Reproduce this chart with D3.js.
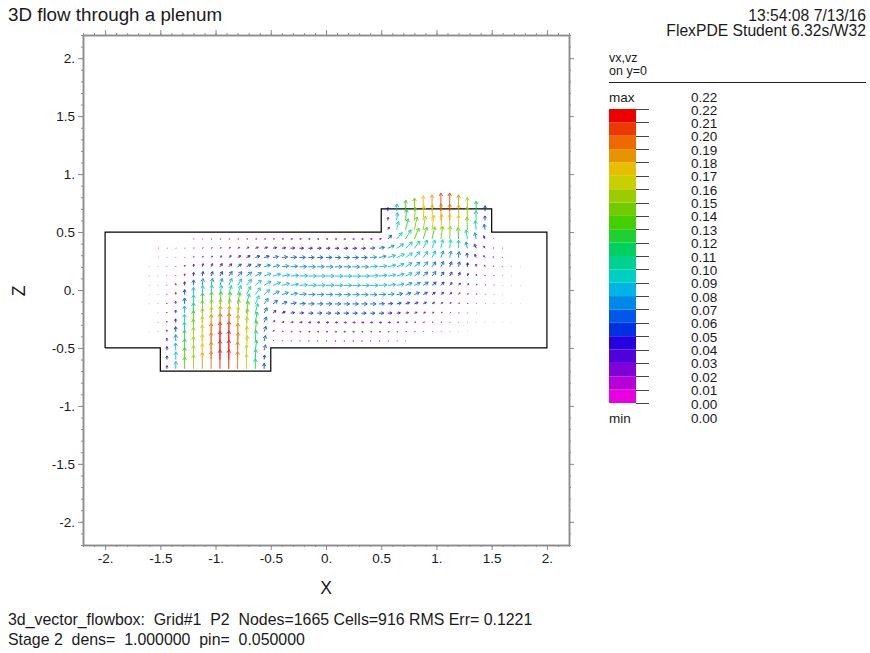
<!DOCTYPE html>
<html>
<head>
<meta charset="utf-8">
<title>3D flow through a plenum</title>
<script src="https://cdnjs.cloudflare.com/ajax/libs/d3/7.8.5/d3.min.js"></script>
<style>
    html, body { margin: 0; padding: 0; background: #fff; }
    svg { display: block; }
    text { font-family: "Liberation Sans", Arial, sans-serif; fill: #1a1a1a; }
    .frame path, .frame line { stroke: #8c8c8c; }
    .frame path { stroke-width: 1.5px; }
    .frame text { font-size: 13.5px; }
</style>
</head>
<body>
<div id="chart"></div>
<script>
// grid of the vector plot
var gridXStart = -1.6, gridXStep = 0.08;
var rowZ = [-0.68, -0.6, -0.52, -0.44, -0.36, -0.28, -0.2, -0.12, -0.04, 0.04, 0.12, 0.2, 0.28, 0.36, 0.44, 0.52, 0.6, 0.68];
// first column index of each row
var rowStart = [2, 2, 2, 2, 0, 1, 1, 0, 0, 0, 0, 0, 1, 1, 5, 27, 27, 27];

// velocities, in units of 0.01
var vxRows = [
    [0,0,0,0,0,0,0,0,0,0,0,0],
    [0,0,0,0,0,0,0,0,0,0,.5,.5],
    [0,-.3,0,0,0,0,0,0,.5,1,1.5,1.5],
    [-.1,-.1,-.1,-.1,0,0,.1,.2,.3,.5,.8,1.5,.8,.9,.9,.9,1,1,1,1.2,1.2,1.2,1.1,1,1,.9,.7,.5],
    [-.1,-.1,-.1,-.2,-.2,-.1,0,.2,.3,.4,.5,.8,1.3,2,1.2,1.5,1.7,1.8,2,2,2,2,2,2,1.9,1.8,1.7,1.5,1.3,1.1,.9,.7,.5,.4,.3,.2,.1],
    [-.1,-.2,-.3,-.2,-.1,.1,.3,.5,.7,.9,1.3,2,2.5,2,2.5,2.8,3,3,3,3,3,3,3,3,3,3,2.8,2.5,2,1.7,1.4,1.1,.9,.6,.4,.3,.2,.1,.1,.1,.1],
    [-.2,-.2,-.2,-.2,0,.2,.5,.8,1.1,1.5,2,2.7,3.2,3.3,3.8,4.2,4.5,5.3,5.3,5.3,5.3,5.3,5.3,5.3,5.3,5.3,4.5,4,3.5,3,2.5,2,1.5,1,.7,.4,.2],
    [-.2,-.2,-.2,-.2,-.1,.1,.3,.7,1.2,1.8,2.5,3.2,4,4.5,5,5.8,6.2,6.5,6.5,6.5,6.5,6.5,6.5,6.5,6.5,6.5,6,5.5,5,4.5,4,3.5,2.7,2,1.5,1,.7,.4,.3,.2,.1,.1,.1],
    [-.2,-.2,-.2,-.1,0,.1,.5,1,1.8,2.7,3.5,4.5,5.5,6,6.8,7.2,7.5,7.5,7.5,7.5,7.5,7.5,7.5,7.5,7.5,7.5,7.4,7,6.5,6,5.5,4.5,3.5,3,2,1.5,1,.6,.3,.3,.2],
    [-.3,-.3,-.2,-.1,0,.2,.8,1.6,2.5,3.5,4.5,5.5,6.5,7.5,8.2,8.5,8.7,8.8,8.8,8.8,8.8,8.8,8.8,8.8,8.8,8.8,8.7,8.5,8,7.2,6.5,5.5,4.5,3.5,2.5,2,1.2,.8,.4,.3,.2,.1,.1],
    [-.4,-.3,-.2,-.1,0,.2,.8,1.7,2.7,3.7,4.7,5.7,6.5,7.5,8.3,8.7,8.8,8.9,8.9,8.9,8.9,8.9,8.9,8.9,8.9,8.9,8.8,8.7,8.2,7.2,6,5,4.2,3.3,2.5,1.5,.8,.3,0,0,0,-.1],
    [-.2,-.2,-.2,0,.1,.3,.8,1.5,2.5,3.2,4,5,6,6.8,7.3,7.6,7.7,7.8,7.8,7.8,7.8,7.8,7.8,7.8,7.8,8,8.5,8.5,8,7,6,5,4,3,2,1,.3,-.3,-.5,-.5,-.5,-.3,-.2],
    [.3,.2,.2,.3,.6,1,1.5,2,2.6,3.3,4,4.8,5.5,6,6.3,6.5,6.5,6.5,6.5,6.5,6.5,6.5,6.5,6.5,7,7.8,8.3,8.5,7.5,6,5,3.8,2.8,1.5,.5,-.5,-1.5,-1.5,-1,-.7],
    [.6,.5,.5,.6,.9,1,1.2,1.4,1.8,2.3,2.8,3.2,3.6,4,4.2,4.5,4.5,4.5,4.5,4.5,4.5,4.5,4.5,4.5,5,6,7,7.5,7.5,6,4.5,3.2,2,1,0,-1.5,-2,-1.5,-.8,-.6],
    [.8,.8,.9,1,1,1.2,1.3,1.5,1.6,1.7,1.8,2,2,2,2,2,2,2,2,2.1,2.2,2.5,4,6,6,5,4,3,2,.5,-.5,-1.5,-1.5,-1.5,-.5],
    [1.5,2,3,3,2.5,2,1,0,0,-.5,-1,-1],
    [.3,.8,1.2,1.2,1,.5,.3,0,0,-.2,-.4,-.2],
    [0,.2,.3,.2,.1,0,0,0,0,-.1,-.1,0]
];
var vzRows = [
    [3.5,8,13,15.5,18,19.5,21,21,19,16,11,6],
    [4,8.5,13,15.5,17.5,19.5,21,21.5,19.5,16,11,5],
    [4,8,12.5,15,17.5,19.5,21,21.5,19.5,16,11,6],
    [3,7,12,15,17.5,19.5,21,21.5,19.5,16,11.5,6,.8,.3,.2,.1,.1,.1,.1,0,0,0,0,0,0,0,0,0],
    [.1,.4,2,5.5,10.5,14,17,19,20,20.5,18.5,16,12,6,1.5,.4,.2,.1,.1,.1,.1,0,0,0,0,0,.1,.1,.1,.2,.2,.2,.2,.2,.1,.1,.1],
    [.4,1.5,4,9,13,15.5,17,18,18,17,15,11.5,6,2,.8,.4,.2,.1,.1,.1,0,0,0,0,0,0,.1,.2,.3,.4,.5,.5,.4,.3,.3,.2,.1,.1,.1,0,0],
    [.3,1.2,3.5,8,11.5,14,15,15.5,15.5,15,13,10.5,6,3,1.5,.8,.4,.1,.1,.1,0,0,0,0,0,0,.2,.4,.7,.9,1,1,1,.8,.6,.4,.2],
    [.1,.3,1,3,6.5,10,12,13,13.5,13,12.5,11,9,6,3.8,2.2,1.2,.5,.2,.2,.2,0,0,0,0,0,.3,.5,1,1.5,1.7,1.8,1.8,1.7,1.5,1.2,.8,.6,.3,.2,.1,.1,.1],
    [.1,.3,.8,2.5,5.5,8,10,10.5,10.5,10,10,9,7.5,5.5,3.8,2.5,1.5,.7,.2,.2,.2,0,0,0,0,0,.3,.8,1.2,2,2.5,2.5,2.5,2.5,2.3,2,1.3,1,.5,.3,.1],
    [-.1,.2,.5,2,4,6,7.5,7.5,7.5,7.5,7,6.5,5.5,4.5,3.3,2.2,1.3,.6,.2,.2,.2,0,0,0,0,0,.5,1,1.5,2.5,3,3.5,3.5,3.5,3,2.5,2,1.3,.8,.6,.3,.2,.1],
    [.1,.2,.4,.7,2.5,4,5,5,5,5,4.7,4.3,3.7,3,2.2,1.4,.8,.4,.2,.2,.2,0,0,0,0,.5,1,1.5,2.5,3.5,4.5,4.5,5,4.5,4.5,4,3,2,1.2,.8,.4,.2],
    [.2,.3,.4,.7,2,3,3.5,3.5,3.5,3.3,3,2.8,2.4,2,1.5,1,.6,.3,.1,.1,.1,0,0,0,0,.5,1,2,3.5,4.5,5,5.5,5.5,6,5.5,5.5,4.5,3,2,1,.4,.2,.1],
    [.3,.3,.4,.5,1.2,1.4,1.6,1.8,2,2,1.9,1.7,1.5,1.1,.7,.4,.2,.1,.1,.1,0,0,0,0,.5,1.5,2.5,3.8,5,6.3,6.8,7.2,7.2,7.2,6.5,5,3.5,2,.8,.3],
    [.2,.2,.2,.3,.4,.5,.6,.7,.9,.9,1,1,1,.8,.5,.3,.1,.1,.1,.1,0,0,0,0,.3,1,3,4.8,6.8,8,9,9,9.5,9.5,9,7,4.5,2.5,.5,.3],
    [.1,.1,.1,.1,.1,.1,.1,.1,.1,.1,.1,.1,.1,.1,.1,.1,0,0,0,0,.1,.3,4,7,10,12,13,13.5,14,14,12.5,10,7,3.5,.5],
    [3,9,12,14,15,16,17,17,16,14,10,6],
    [3.5,8.5,12,14.5,16,17.5,18.5,18,17,15,10.5,5],
    [4,8,12,14.5,17,18,20,20,18,15,11,6]
];

// outline of the plenum
var wallX = [-2, -1.5, -1.5, -0.5, -0.5, 2, 2, 1.5, 1.5, 0.5, 0.5, -2, -2];
var wallZ = [-0.5, -0.5, -0.7, -0.7, -0.5, -0.5, 0.5, 0.5, 0.7, 0.7, 0.5, 0.5, -0.5];

var majorTicks = [-2, -1.5, -1, -0.5, 0, 0.5, 1, 1.5, 2];
var tickLabels = ['-2.', '-1.5', '-1.', '-0.5', '0.', '0.5', '1.', '1.5', '2.'];
var minorTicks = d3.range(-22, 23).map(function(d) { return d / 10; });

// legend, lowest band first
var bandColors = ['#e800e0', '#b800d8', '#8000d8', '#5000d8', '#2800e0', '#0030e0', '#0058e8', '#0088e8',
    '#00b4e6', '#00d0c0', '#00d090', '#00d060', '#1ed030', '#44d000', '#70cc00', '#9ccc00',
    '#c8d000', '#e6c000', '#e69400', '#ec6a00', '#ea3a00', '#ee0000'];
var legendValues = d3.range(0, 23).map(function(d) { return d / 100; });

var svg = d3.select('#chart').append('svg')
    .attr('width', 870)
    .attr('height', 653);

var x = d3.scaleLinear().domain([-2.2, 2.2]).range([83, 569]);
var z = d3.scaleLinear().domain([-2.2, 2.2]).range([545, 35]);
var arrowLen = d3.scaleLinear().domain([0, 0.22]).range([0, 20]);
var color = d3.scaleQuantize().domain([0, 0.22]).range(bandColors);

function addAxis(axis, tx, ty) {
    var tickText = function(d) { return tickLabels[majorTicks.indexOf(d)]; };
    svg.append('g').attr('class', 'frame')
        .attr('transform', 'translate(' + tx + ',' + ty + ')')
        .call(axis(minorTicks).tickSize(2).tickSizeOuter(0).tickFormat(''));
    var g = svg.append('g').attr('class', 'frame')
        .attr('transform', 'translate(' + tx + ',' + ty + ')')
        .call(axis(majorTicks).tickSize(5).tickSizeOuter(0).tickPadding(3).tickFormat(tickText));
    return g;
}

function axisOf(fn, scale) {
    return function(values) { return fn(scale).tickValues(values); };
}

addAxis(axisOf(d3.axisBottom, x), 0, 545);
addAxis(axisOf(d3.axisLeft, z), 83, 0);
addAxis(axisOf(d3.axisTop, x), 0, 35).selectAll('text').remove();
addAxis(axisOf(d3.axisRight, z), 569, 0).selectAll('text').remove();

// plenum wall
var wall = d3.line()
    .x(function(d) { return x(d[0]); })
    .y(function(d) { return z(d[1]); });
svg.append('path')
    .attr('d', wall(d3.zip(wallX, wallZ)))
    .attr('fill', 'none')
    .attr('stroke', '#000')
    .attr('stroke-width', 1.2);

// flatten the rows into arrows
var arrows = [];
rowZ.forEach(function(rz, r) {
    vxRows[r].forEach(function(vx, c) {
        arrows.push({
            x: gridXStart + gridXStep * (rowStart[r] + c),
            z: rz,
            vx: vx / 100,
            vz: vzRows[r][c] / 100
        });
    });
});

function arrowPath(d) {
    var speed = Math.sqrt(d.vx * d.vx + d.vz * d.vz);
    var len = arrowLen(speed);
    var a = Math.atan2(-d.vz, d.vx);
    var x0 = x(d.x), y0 = z(d.z);
    var x1 = x0 + len * Math.cos(a), y1 = y0 + len * Math.sin(a);
    var h = Math.min(3.5, len * 0.6);
    var p = d3.path();
    p.moveTo(x0, y0);
    p.lineTo(x1, y1);
    p.moveTo(x1 - h * Math.cos(a - 0.55), y1 - h * Math.sin(a - 0.55));
    p.lineTo(x1, y1);
    p.lineTo(x1 - h * Math.cos(a + 0.55), y1 - h * Math.sin(a + 0.55));
    return p.toString();
}

svg.append('g')
    .attr('opacity', 0.85)
    .selectAll('path')
    .data(arrows)
    .enter()
    .append('path')
    .attr('d', arrowPath)
    .attr('fill', 'none')
    .attr('stroke-width', 1)
    .attr('stroke', function(d) {
        return color(Math.min(0.2199, Math.sqrt(d.vx * d.vx + d.vz * d.vz)));
    });

// legend
var ly = d3.scaleLinear().domain([0, 0.22]).range([403, 109]);
svg.append('g')
    .selectAll('rect')
    .data(bandColors)
    .enter()
    .append('rect')
    .attr('x', 609)
    .attr('width', 27)
    .attr('y', function(d, i) { return ly((i + 1) / 100); })
    .attr('height', function(d, i) { return ly(i / 100) - ly((i + 1) / 100); })
    .attr('fill', function(d) { return d; });

svg.append('g')
    .selectAll('line')
    .data(legendValues)
    .enter()
    .append('line')
    .attr('x1', 636)
    .attr('x2', 649)
    .attr('y1', function(d) { return Math.round(ly(d)) + 0.5; })
    .attr('y2', function(d) { return Math.round(ly(d)) + 0.5; })
    .attr('stroke', '#444');

svg.append('g')
    .selectAll('text')
    .data(legendValues)
    .enter()
    .append('text')
    .attr('x', 691)
    .attr('y', function(d) { return ly(d) + 5.5; })
    .style('font-size', '13.5px')
    .text(function(d) { return d.toFixed(2); });

function label(str, px, py, size, anchor) {
    return svg.append('text')
        .attr('x', px)
        .attr('y', py)
        .style('font-size', size + 'px')
        .style('text-anchor', anchor || 'start')
        .text(str);
}

label('0.22', 691, 101.5, 13.5);
label('0.00', 691, 423, 13.5);
label('max', 609, 101.5, 13.5);
label('min', 609, 423, 13.5);
label('vx,vz', 609, 62, 12.5);
label('on y=0', 609, 75, 12.5);
svg.append('line')
    .attr('x1', 609).attr('x2', 866)
    .attr('y1', 82.5).attr('y2', 82.5)
    .attr('stroke', '#222');

label('3D flow through a plenum', 8, 21, 18.8);
label('13:54:08 7/13/16', 866, 21, 15.7, 'end');
label('FlexPDE Student 6.32s/W32', 866, 36, 15.7, 'end');
label('X', 326, 594, 17.5, 'middle');
svg.append('text')
    .attr('transform', 'translate(25,291) rotate(-90)')
    .style('font-size', '17.5px')
    .style('text-anchor', 'middle')
    .text('Z');
label('3d_vector_flowbox:  Grid#1  P2  Nodes=1665 Cells=916 RMS Err= 0.1221', 8, 625, 15.9).style('white-space', 'pre');
label('Stage 2  dens=  1.000000  pin=  0.050000', 8, 645, 15.9).style('white-space', 'pre');
</script>
</body>
</html>
